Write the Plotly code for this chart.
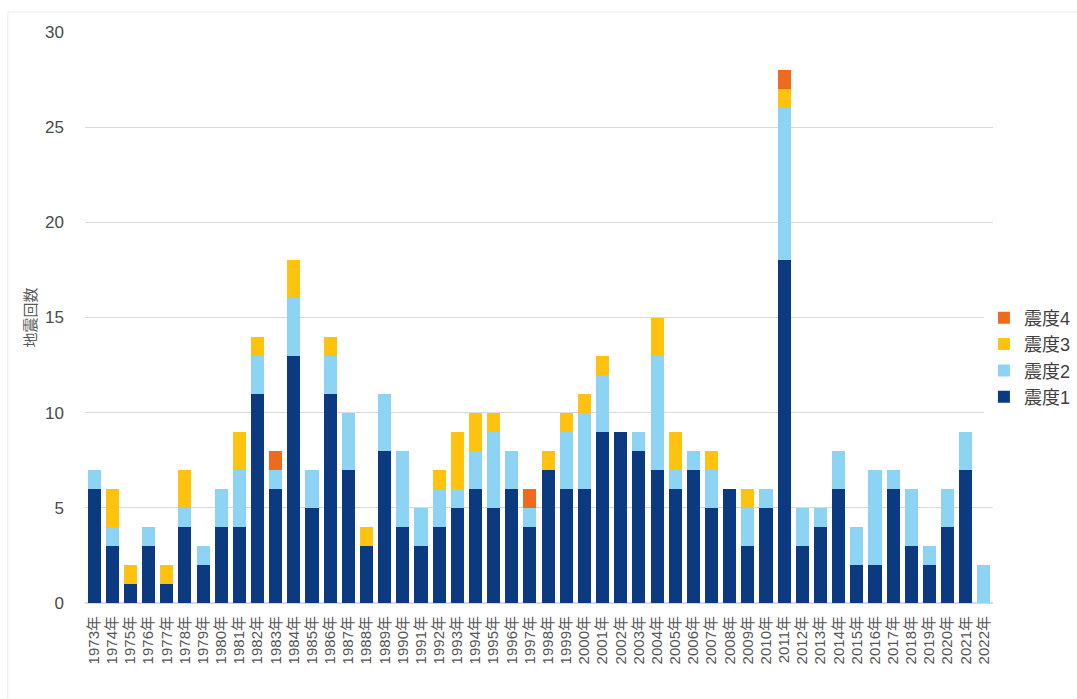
import plotly.graph_objects as go

years = [f"{y}年" for y in range(1973, 2023)]

shindo1 = [6, 3, 1, 3, 1, 4, 2, 4, 4, 11, 6, 13, 5, 11, 7, 3, 8, 4, 3, 4, 5, 6, 5, 6, 4,
           7, 6, 6, 9, 9, 8, 7, 6, 7, 5, 6, 3, 5, 18, 3, 4, 6, 2, 2, 6, 3, 2, 4, 7, 0]
shindo2 = [1, 1, 0, 1, 0, 1, 1, 2, 3, 2, 1, 3, 2, 2, 3, 0, 3, 4, 2, 2, 1, 2, 4, 2, 1,
           0, 3, 4, 3, 0, 1, 6, 1, 1, 2, 0, 2, 1, 8, 2, 1, 2, 2, 5, 1, 3, 1, 2, 2, 2]
shindo3 = [0, 2, 1, 0, 1, 2, 0, 0, 2, 1, 0, 2, 0, 1, 0, 1, 0, 0, 0, 1, 3, 2, 1, 0, 0,
           1, 1, 1, 1, 0, 0, 2, 2, 0, 1, 0, 1, 0, 1, 0, 0, 0, 0, 0, 0, 0, 0, 0, 0, 0]
shindo4 = [0, 0, 0, 0, 0, 0, 0, 0, 0, 0, 1, 0, 0, 0, 0, 0, 0, 0, 0, 0, 0, 0, 0, 0, 1,
           0, 0, 0, 0, 0, 0, 0, 0, 0, 0, 0, 0, 0, 1, 0, 0, 0, 0, 0, 0, 0, 0, 0, 0, 0]

series = [
    ("震度1", shindo1, "#0B3A80"),
    ("震度2", shindo2, "#8DD3F3"),
    ("震度3", shindo3, "#FFC20E"),
    ("震度4", shindo4, "#EE6A1F"),
]

FONT = "Liberation Sans, Arial, 'Noto Sans CJK JP', sans-serif"

fig = go.Figure()
for name, vals, color in series:
    fig.add_trace(go.Bar(x=years, y=vals, name=name, marker=dict(color=color, line=dict(width=0))))

fig.update_layout(
    barmode="stack",
    bargap=0.28,
    width=1077,
    height=699,
    paper_bgcolor="white",
    plot_bgcolor="white",
    margin=dict(l=85, r=84, t=32, b=96, autoexpand=False),
    font=dict(family=FONT, color="#595959"),
    legend=dict(
        traceorder="reversed",
        x=0.99, xanchor="left",
        y=0.43, yanchor="middle",
        font=dict(size=18, color="#404040"),
        itemwidth=30,
        tracegroupgap=0,
    ),
    showlegend=True,
)

fig.update_yaxes(
    range=[0, 30],
    dtick=5,
    showgrid=True,
    gridcolor="#D9D9D9",
    gridwidth=1,
    zeroline=True,
    zerolinecolor="#D9D9D9",
    showline=False,
    tickfont=dict(size=17, color="#4A4A4A"),
    ticklabelstandoff=20,
    title=dict(text="地震回数", font=dict(size=15, color="#595959"), standoff=4),
)
fig.update_xaxes(
    tickmode="array",
    tickvals=years,
    ticktext=years,
    tickangle=-90,
    tickfont=dict(size=15, color="#555555"),
    ticklabelstandoff=9,
    showgrid=False,
    showline=False,
    ticks="",
)

fig.add_shape(type="rect", xref="paper", yref="paper",
              x0=-0.085, x1=1.2, y0=-0.3, y1=1.035,
              line=dict(color="#EBEBEB", width=1), fillcolor="rgba(0,0,0,0)", layer="below")

fig.write_html("out.html")
